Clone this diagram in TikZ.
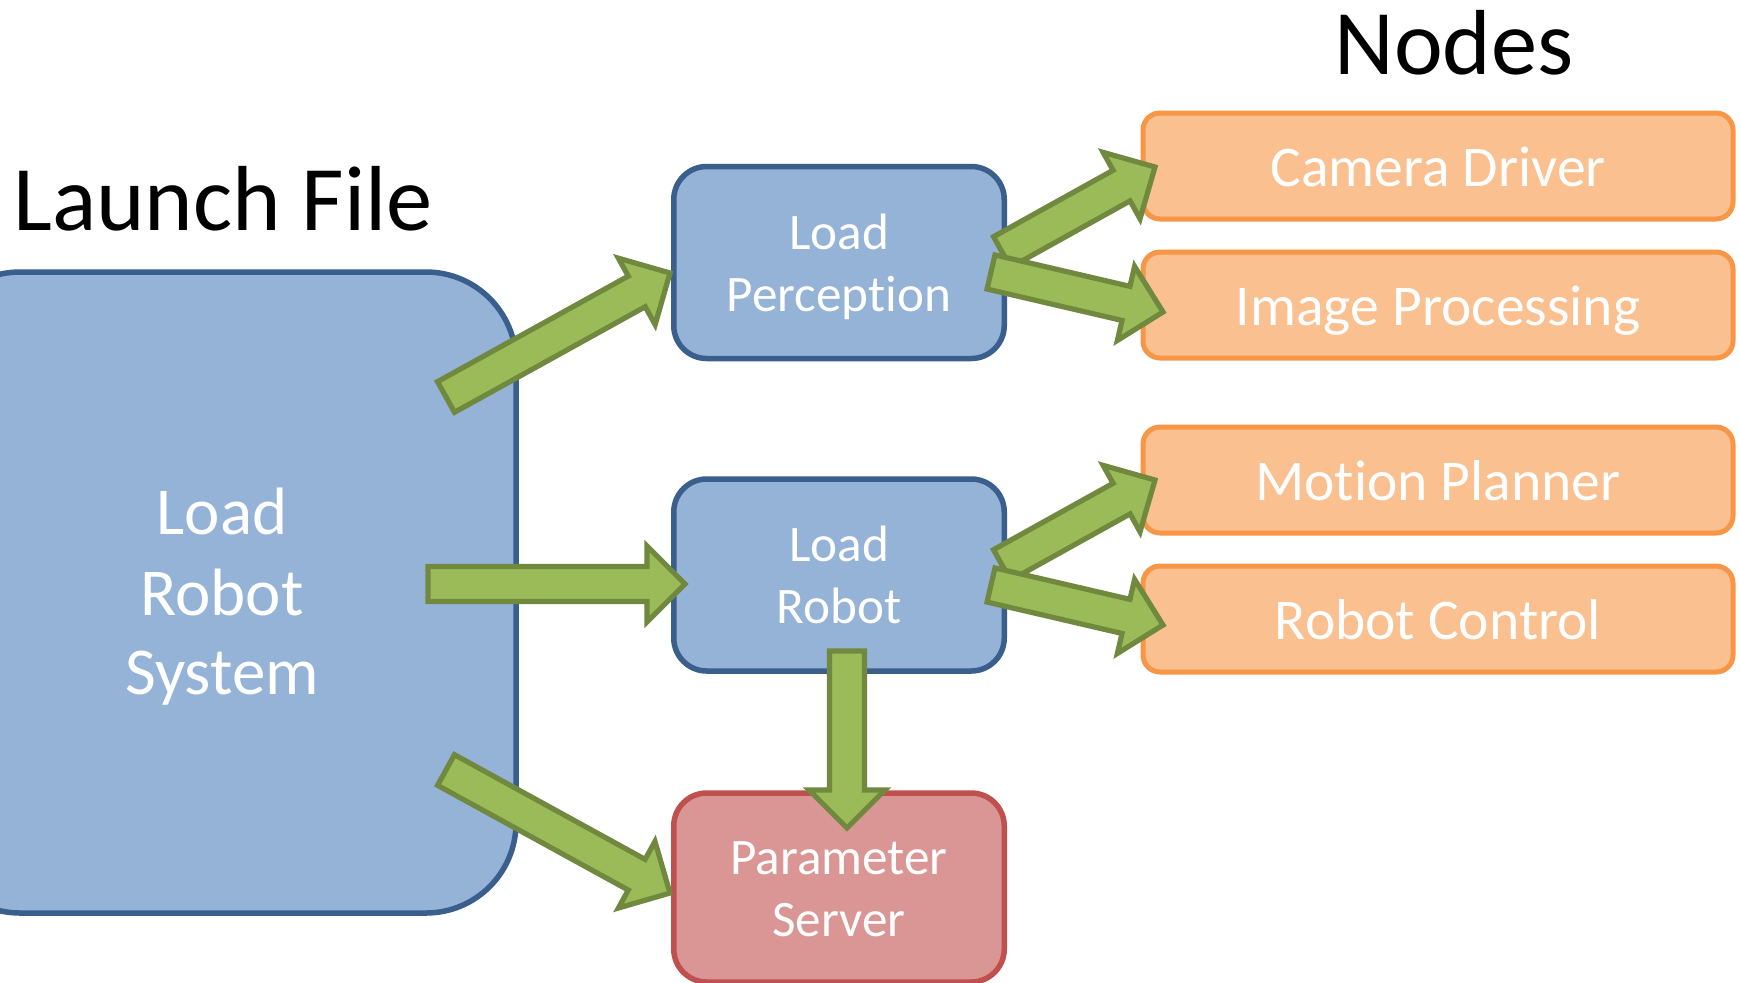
\documentclass[tikz,border=0pt]{standalone}
\usepackage{fontspec}
\setmainfont{Carlito}[Ligatures={NoCommon,NoRare}]
\usetikzlibrary{calc}
\definecolor{bluefill}{HTML}{95B3D7}
\definecolor{blueline}{HTML}{3A5F8C}
\definecolor{orangefill}{HTML}{FAC090}
\definecolor{orangeline}{HTML}{F79646}
\definecolor{redfill}{HTML}{D99694}
\definecolor{redline}{HTML}{C0504D}
\definecolor{greenfill}{HTML}{9BBB59}
\definecolor{greenline}{HTML}{71893F}
\tikzset{
  box/.style={rectangle, line width=2.75pt, inner sep=0pt, align=center, text=white},
  bigbox/.style={box, draw=blueline, fill=bluefill, rounded corners=45pt,
    minimum width=293pt, minimum height=320.5pt},
  bluebox/.style={box, draw=blueline, fill=bluefill, rounded corners=16.5pt,
    minimum width=165.25pt, minimum height=96pt},
  redbox/.style={box, draw=redline, fill=redfill, rounded corners=16.5pt,
    minimum width=165.25pt, minimum height=94.5pt},
  orangebox/.style={box, draw=orangeline, fill=orangefill, rounded corners=8.5pt,
    line width=2.5pt, minimum width=295pt, minimum height=53pt,
    text height=20pt, text depth=0pt, font=\fontsize{28.8}{34}\selectfont},
  bigtext/.style={anchor=base, inner sep=0pt, text=white, font=\fontsize{33.5}{40}\selectfont},
  smalltext/.style={anchor=base, inner sep=0pt, text=white, font=\fontsize{25.6}{31}\selectfont},
  titletext/.style={inner sep=0pt, font=\fontsize{46.2}{55}\selectfont, text=black},
  greenarrow/.style={draw=greenline, fill=greenfill, line width=2.6pt, line join=miter},
}
\newcommand\blockarrow[2]{%
  \draw[greenarrow] let \p1=(#1), \p2=(#2),
      \n1={atan2(\y2-\y1,\x2-\x1)},
      \n2={veclen(\x2-\x1,\y2-\y1)-19} in
    ($(\p1)+(\n1+90:8.75pt)$)
    -- ($(\p1)+(\n1:\n2)+(\n1+90:8.75pt)$)
    -- ($(\p1)+(\n1:\n2)+(\n1+90:19pt)$)
    -- (\p2)
    -- ($(\p1)+(\n1:\n2)+(\n1-90:19pt)$)
    -- ($(\p1)+(\n1:\n2)+(\n1-90:8.75pt)$)
    -- ($(\p1)+(\n1-90:8.75pt)$)
    -- cycle;}
\begin{document}
\begin{tikzpicture}[x=0.5pt, y=-0.5pt]
\useasboundingbox (0,0) rectangle (1740,982);
\fill[white] (0,0) rectangle (1740,982);
\clip (0,0) rectangle (1740,982);

% titles
\node[titletext, anchor=base west] (launch) at (13,230) {Launch File};
\node[titletext, anchor=base] (nodes) at (1454,74) {Nodes};

% boxes
\node[bigbox] (sys) at (223,592.5) {};
\node[bluebox] (lp) at (839,262.5) {};
\node[bluebox] (lr) at (839,575) {};
\node[redbox] (ps) at (839,887.5) {};
\node[orangebox] (cd) at (1438,166) {Camera Driver};
\node[orangebox] (ip) at (1438,305) {Image Processing};
\node[orangebox] (mp) at (1438,480) {Motion Planner};
\node[orangebox] (rc) at (1438,619) {Robot Control};

% box texts (placed by baseline)
\node[bigtext] (sys1) at (222,534) {Load};
\node[bigtext] (sys2) at (222,615) {Robot};
\node[bigtext] (sys3) at (222,694) {System};
\node[smalltext] (lp1) at (839,249) {Load};
\node[smalltext] (lp2) at (839,311) {Perception};
\node[smalltext] (lr1) at (839,561.5) {Load};
\node[smalltext] (lr2) at (839,623.5) {Robot};
\node[smalltext] (ps1) at (839,874) {Parameter};
\node[smalltext] (ps2) at (839,936) {Server};

% arrow end points
\coordinate (a1s) at (446,397);  \coordinate (a1e) at (670,273);
\coordinate (a2s) at (428,584);  \coordinate (a2e) at (685,584);
\coordinate (a3s) at (446,770);  \coordinate (a3e) at (670,893);
\coordinate (a4s) at (1002,252); \coordinate (a4e) at (1155,167);
\coordinate (a5s) at (991,272);  \coordinate (a5e) at (1163,312);
\coordinate (a6s) at (1002,565); \coordinate (a6e) at (1155,480);
\coordinate (a7s) at (991,585);  \coordinate (a7e) at (1163,625);
\coordinate (a8s) at (847,651);  \coordinate (a8e) at (847,828);

\blockarrow{a1s}{a1e}
\blockarrow{a2s}{a2e}
\blockarrow{a3s}{a3e}
\blockarrow{a4s}{a4e}
\blockarrow{a5s}{a5e}
\blockarrow{a6s}{a6e}
\blockarrow{a7s}{a7e}
\blockarrow{a8s}{a8e}
\end{tikzpicture}
\end{document}
